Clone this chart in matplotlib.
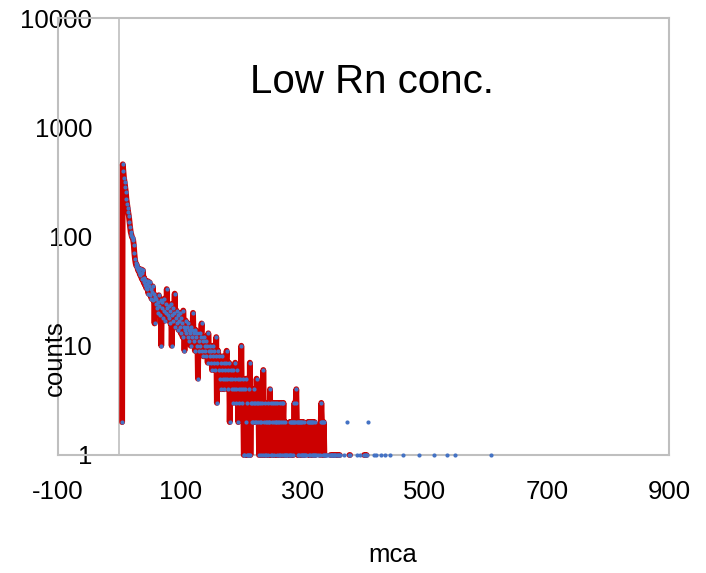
"""Low Rn concentration MCA spectrum, log-scale counts (Excel-style look)."""
import matplotlib

matplotlib.use("Agg")
import matplotlib.pyplot as plt  # noqa: E402
import numpy as np  # noqa: E402

plt.rcParams["font.family"] = ["Liberation Sans", "DejaVu Sans"]

# channel where the dense part of the spectrum starts
MCA_START = 5

# counts per channel, channels 5..345
counts_dense = [
    # 5-34
    2, 458, 398, 343, 315, 282, 256, 220, 200, 182, 166, 154, 136, 122, 110,
    104, 99, 97, 93, 84, 70, 62, 57, 54, 55, 52, 49, 51, 47, 45,
    # 35-60
    44, 50, 41, 46, 49, 38, 42, 36, 40, 34, 37, 33, 39, 30, 35, 38, 29, 33,
    27, 31, 35, 26, 30, 16, 28, 24,
    # 61-80
    27, 22, 25, 20, 29, 23, 19, 26, 10, 22, 25, 18, 21, 27, 17, 24, 20, 33, 22, 19,
    # 81-110
    23, 18, 21, 16, 24, 10, 19, 22, 17, 20, 30, 15, 18, 21, 16, 19, 14, 17, 20, 15,
    13, 18, 16, 12, 21, 15, 9, 14, 17, 13,
    # 111-140
    15, 12, 16, 11, 14, 13, 10, 15, 12, 14, 20, 11, 13, 9, 14, 12, 10, 13, 5, 11,
    9, 13, 10, 12, 16, 9, 11, 8, 12, 10,
    # 141-180
    9, 11, 8, 10, 7, 13, 9, 8, 10, 7, 9, 6, 10, 8, 7, 9, 6, 8, 12, 3,
    7, 9, 6, 8, 5, 7, 4, 6, 8, 5, 7, 4, 6, 5, 7, 9, 5, 6, 4, 7,
    # 181-215
    2, 5, 6, 4, 5, 3, 6, 4, 5, 7, 3, 4, 6, 5, 2, 4, 3, 5, 4, 10,
    3, 5, 4, 1, 1, 4, 2, 5, 1, 3, 1, 4, 1, 7, 1,
    # 216-228
    3, 2, 3, 2, 4, 3, 2, 3, 2, 5, 3, 2, 3,
    # 229-277
    1, 3, 2, 1, 2, 3, 1, 6, 2, 1, 3, 2, 1, 2, 3, 1, 2, 2, 4, 1,
    3, 2, 1, 3, 2, 1, 3, 2, 2, 1, 3, 2, 1, 2, 3, 1, 2, 3, 1, 2,
    3, 1, 1, 2, 1, 0, 1, 0, 0,
    # 278-304
    1, 2, 1, 2, 1, 2, 2, 1, 2, 3, 2, 3, 4, 2, 1, 2, 2, 1, 2, 1,
    2, 1, 2, 1, 2, 1, 1,
    # 305-328
    0, 1, 0, 0, 2, 1, 2, 2, 1, 2, 1, 2, 1, 2, 1, 2, 1, 0, 1, 0,
    0, 1, 0, 0,
    # 329-345
    1, 2, 3, 2, 2, 1, 2, 1, 1, 0, 1, 0, 1, 0, 0, 1, 0,
]

# sparse tail beyond channel 345
tail_mca = [346, 347, 348, 350, 351, 353, 354, 357, 358, 360, 361, 368, 373,
            377, 378, 390, 394, 401, 402, 404, 405, 408, 418, 421, 428, 436,
            444, 465, 491, 516, 537, 549, 608]
tail_counts = [1, 1, 1, 1, 1, 1, 1, 1, 1, 1, 1, 1, 2,
               1, 1, 1, 1, 1, 1, 1, 1, 2, 1, 1, 1, 1,
               1, 1, 1, 1, 1, 1, 1]

x_ticks = [-100, 100, 300, 500, 700, 900]
y_ticks = [1, 10, 100, 1000, 10000]

# full channel grid so zero-count channels break the line
last = max(tail_mca)
mca = np.arange(MCA_START, last + 1)
counts = np.zeros(mca.size)
counts[: len(counts_dense)] = counts_dense
for ch, c in zip(tail_mca, tail_counts):
    counts[ch - MCA_START] = c
line_y = np.where(counts > 0, counts, np.nan)

GRAY = "#BFBFBF"
RED = "#CC0000"
BLUE = "#4472C4"

fig = plt.figure(figsize=(7.06, 5.73), dpi=100)
ax = fig.add_axes([58 / 706, 1 - 455 / 573, 611 / 706, 437 / 573])

ax.axvline(0, color=GRAY, linewidth=1.2, zorder=1)
ax.plot(mca, line_y, color=RED, linewidth=4.2, solid_joinstyle="round",
        solid_capstyle="round", zorder=3, clip_on=False)
pos = counts > 0
ax.plot(mca[pos], counts[pos], linestyle="none", marker="o", markersize=3.0,
        markeredgewidth=0, color=BLUE, zorder=4, clip_on=False)

ax.set_yscale("log")
ax.set_ylim(1, 10000)
ax.set_xlim(-100, 900)
ax.set_xticks(x_ticks)
ax.set_xticklabels([str(v) for v in x_ticks])
ax.set_yticks(y_ticks)
ax.set_yticklabels([str(v) for v in y_ticks])
ax.minorticks_off()
ax.tick_params(axis="x", length=0, pad=18, labelsize=18.5)
ax.tick_params(axis="y", length=0, pad=-24.5, labelsize=18.5)

for sp in ax.spines.values():
    sp.set_color(GRAY)
    sp.set_linewidth(1.5)
    sp.set_zorder(2)

ax.text(0.514, 0.854, "Low Rn conc.", transform=ax.transAxes,
        ha="center", va="center", fontsize=29)

fig.text(55 / 706, 1 - 358 / 573, "counts", rotation=90, ha="center",
         va="center", fontsize=18.5)
fig.text(393 / 706, 1 - 555 / 573, "mca", ha="center", va="center",
         fontsize=18.5)

fig.savefig("out.png", dpi=100)
plt.close(fig)
